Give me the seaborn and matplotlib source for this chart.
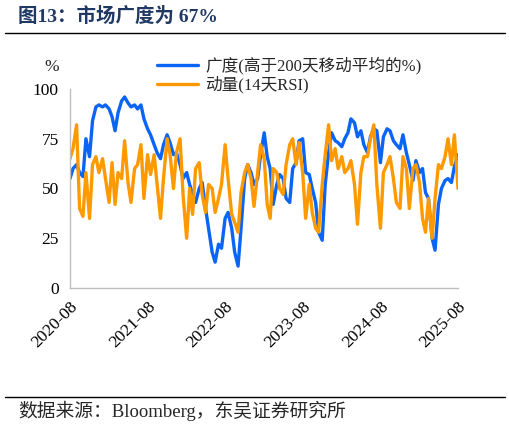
import matplotlib
matplotlib.use("Agg")
import matplotlib.pyplot as plt
import matplotlib.dates as mdates
import seaborn as sns
import pandas as pd

# 数据：半月频率，2020-08 至 2025-08
dates = pd.date_range("2020-08-01", periods=121, freq="SMS")

breadth = [55, 60, 62, 58, 56, 75, 66, 84, 91, 92, 91, 92, 90, 86, 79, 88,
           94, 96, 93, 91, 92, 90, 92, 85, 80, 77, 72, 68, 65, 72, 77, 73,
           67, 68, 62, 55, 58, 52, 47, 43, 50, 53, 40, 30, 18, 13, 22, 20,
           35, 38, 30, 18, 11, 30, 55, 62, 58, 52, 55, 67, 78, 66, 60, 42,
           52, 57, 55, 45, 43, 60, 63, 74, 75, 58, 57, 50, 43, 28, 24, 52,
           68, 78, 74, 73, 71, 75, 78, 85, 83, 76, 79, 72, 68, 76, 80, 79,
           63, 76, 80, 79, 74, 72, 70, 77, 68, 62, 54, 64, 58, 60, 48, 45,
           25, 19, 42, 50, 54, 55, 53, 61, 67]

rsi = [65, 70, 82, 40, 36, 58, 35, 62, 66, 58, 65, 55, 43, 63, 42, 58,
       55, 74, 53, 43, 60, 62, 72, 45, 67, 57, 67, 52, 35, 55, 75, 67,
       50, 68, 75, 47, 25, 50, 37, 60, 63, 47, 38, 52, 50, 38, 45, 52,
       72, 55, 37, 33, 28, 48, 58, 62, 55, 41, 58, 72, 65, 42, 35, 60,
       58, 50, 47, 62, 72, 75, 62, 73, 58, 35, 52, 38, 30, 28, 52, 67,
       82, 64, 70, 60, 66, 58, 60, 64, 52, 32, 58, 66, 66, 75, 82, 52,
       30, 58, 62, 66, 55, 43, 40, 66, 60, 40, 60, 62, 53, 35, 28, 45,
       25, 45, 62, 60, 66, 75, 62, 77, 50]

label_breadth = "广度(高于200天移动平均的%)"
label_rsi = "动量(14天RSI)"
title = "图13：市场广度为 67%"
source = "数据来源：Bloomberg，东吴证券研究所"

df = pd.DataFrame({"date": dates, "breadth": breadth, "rsi": rsi})

sns.set_style("white")
fonts = ["Liberation Serif", "Noto Sans CJK SC", "DejaVu Sans"]
plt.rcParams["font.family"] = fonts

fig = plt.figure(figsize=(5.1, 4.29), dpi=100)
ax = fig.add_axes([70 / 510, 1 - 288 / 429, (458 - 70) / 510, (288 - 89) / 429])

sns.lineplot(data=df, x="date", y="breadth", ax=ax, color="#0A64F5", linewidth=2.4, label=label_breadth, legend=False)
sns.lineplot(data=df, x="date", y="rsi", ax=ax, color="#FF9900", linewidth=2.4, label=label_rsi, legend=False)

ax.set_xlim(pd.Timestamp("2020-08-01"), pd.Timestamp("2025-08-01"))
ax.set_ylim(0, 100)
ax.set_yticks([0, 25, 50, 75, 100])
ax.xaxis.set_major_locator(mdates.MonthLocator(bymonth=8, bymonthday=1))
ax.xaxis.set_major_formatter(mdates.DateFormatter("%Y-%m"))
ax.set_xlabel("")
ax.set_ylabel("")

for s in ["top", "right"]:
    ax.spines[s].set_visible(False)
for s in ["left", "bottom"]:
    ax.spines[s].set_color("#BFBFBF")
    ax.spines[s].set_linewidth(1.0)
ax.tick_params(axis="both", direction="out", length=4, color="#BFBFBF", labelsize=12.5, labelcolor="black")
ax.tick_params(axis="y", pad=4)
plt.setp(ax.get_xticklabels(), rotation=45, ha="right", rotation_mode="anchor")

# 图例
fig.legend(loc="upper left", bbox_to_anchor=(150 / 510, 1 - 50 / 429), frameon=False,
           fontsize=12, handlelength=2.5, handletextpad=0.4, labelspacing=0.1, borderaxespad=0)

fig.text(52 / 510, 1 - 67 / 429, "%", fontsize=12.5, ha="center", va="center")

# 标题与来源
fig.text(18 / 510, 1 - 16 / 429, title, fontsize=14, fontweight="bold", color="#1F3864", ha="left", va="center")
fig.add_artist(plt.Line2D([5 / 510, 505 / 510], [1 - 33 / 429, 1 - 33 / 429], color="black", linewidth=1.0))
fig.add_artist(plt.Line2D([5 / 510, 505 / 510], [1 - 397 / 429, 1 - 397 / 429], color="black", linewidth=1.0))
fig.text(18 / 510, 1 - 411 / 429, source, fontsize=13.5, ha="left", va="center")

fig.savefig("out.png", dpi=100)
